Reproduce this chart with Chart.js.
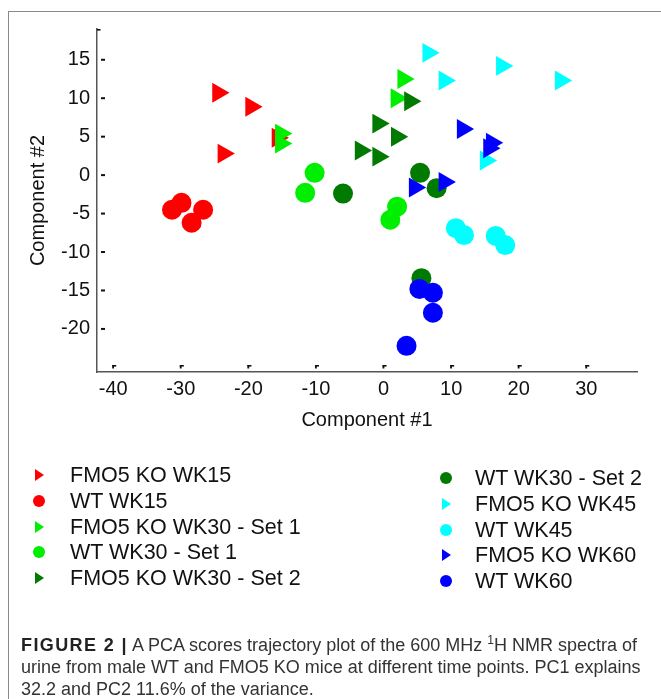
<!DOCTYPE html>
<html>
<head>
<meta charset="utf-8">
<script src="https://cdn.jsdelivr.net/npm/chart.js@4.4.1/dist/chart.umd.min.js"></script>
<style>
  html, body { margin:0; padding:0; background:#fff; width:661px; height:699px; overflow:hidden;
    font-family:"Liberation Sans", Arial, Helvetica, sans-serif; }
  #frame { position:absolute; left:8px; top:11px; width:720px; height:760px;
    border:1.5px solid #8a8a8a; box-sizing:border-box; }
  #wrap { position:absolute; left:0; top:0; width:661px; height:440px; }
  #legend { position:absolute; left:0; top:0; width:661px; height:699px; pointer-events:none; }
  .ltext { position:absolute; font-size:21.5px; color:#111; white-space:nowrap; line-height:24px; }
  .mk { position:absolute; }
  #caption { position:absolute; left:21px; top:634px; font-family:"Liberation Sans", Arial, sans-serif;
    font-size:18px; line-height:22px; color:#333; white-space:nowrap; }
  #caption b { color:#222; letter-spacing:1.4px; }
  #caption sup { font-size:12px; vertical-align:7px; line-height:0; }
</style>
</head>
<body>
<div id="frame"></div>
<div id="wrap"><canvas id="c" width="661" height="440"></canvas></div>
<div id="legend"></div>
<div id="caption"><b>FIGURE 2 |</b> A PCA scores trajectory plot of the 600 MHz <sup>1</sup>H NMR spectra of<br>urine from male WT and FMO5 KO mice at different time points. PC1 explains<br>32.2 and PC2 11.6% of the variance.</div>
<script>
// ---- data ----
const xTicks = [-40, -30, -20, -10, 0, 10, 20, 30];
const yTicks = [-20, -15, -10, -5, 0, 5, 10, 15];

const seriesNames = [
  'FMO5 KO WK15', 'WT WK15', 'FMO5 KO WK30 - Set 1', 'WT WK30 - Set 1', 'FMO5 KO WK30 - Set 2',
  'WT WK30 - Set 2', 'FMO5 KO WK45', 'WT WK45', 'FMO5 KO WK60', 'WT WK60'
];
const seriesColors = ['#ff0000', '#ff0000', '#00ee00', '#00ee00', '#007a00',
                      '#007a00', '#00ffff', '#00ffff', '#0000ff', '#0000ff'];
const seriesShapes = ['triangle', 'circle', 'triangle', 'circle', 'triangle',
                      'circle', 'triangle', 'circle', 'triangle', 'circle'];

const koWk15X = [-24.5, -19.6, -15.7, -23.7];
const koWk15Y = [10.7, 8.9, 4.85, 2.8];
const wtWk15X = [-31.3, -29.9, -26.7, -28.4];
const wtWk15Y = [-4.5, -3.6, -4.5, -6.2];
const koWk30s1X = [-15.2, -15.2, 2.9, 1.9];
const koWk30s1Y = [5.4, 4.1, 12.5, 10.0];
const wtWk30s1X = [-10.2, -11.6, 2.0, 1.0];
const wtWk30s1Y = [0.3, -2.3, -4.1, -5.8];
const koWk30s2X = [3.9, -0.8, 1.95, -3.4, -0.8];
const koWk30s2Y = [9.6, 6.7, 5.0, 3.2, 2.4];
const wtWk30s2X = [-6.0, 5.4, 7.85, 5.6];
const wtWk30s2Y = [-2.4, 0.3, -1.7, -13.4];
const koWk45X = [6.6, 17.5, 9.0, 26.2, 15.1];
const koWk45Y = [15.9, 14.2, 12.3, 12.3, 1.9];
const wtWk45X = [10.7, 11.9, 16.6, 18.0];
const wtWk45Y = [-6.9, -7.8, -7.9, -9.1];
const koWk60X = [11.7, 16.0, 15.6, 4.6, 9.0];
const koWk60Y = [6.0, 4.2, 3.5, -1.6, -0.9];
const wtWk60X = [5.3, 7.3, 7.3, 3.4];
const wtWk60Y = [-14.8, -15.3, -17.9, -22.2];

const seriesX = [koWk15X, wtWk15X, koWk30s1X, wtWk30s1X, koWk30s2X, wtWk30s2X, koWk45X, wtWk45X, koWk60X, wtWk60X];
const seriesY = [koWk15Y, wtWk15Y, koWk30s1Y, wtWk30s1Y, koWk30s2Y, wtWk30s2Y, koWk45Y, wtWk45Y, koWk60Y, wtWk60Y];

// ---- chart ----
const FONT = '"Liberation Sans", Arial, Helvetica, sans-serif';
const n = seriesNames.length;
const datasets = seriesNames.map((name, i) => ({
  label: name,
  data: seriesX[i].map((x, j) => ({ x: x, y: seriesY[i][j] })),
  backgroundColor: seriesColors[i],
  borderColor: seriesColors[i],
  borderWidth: 0,
  pointStyle: seriesShapes[i],
  pointRotation: seriesShapes[i] === 'triangle' ? 90 : 0,
  pointRadius: seriesShapes[i] === 'triangle' ? 11.5 : 10,
  pointBorderWidth: 0,
  order: n - i
}));

const tickMarks = {
  id: 'tickMarks',
  beforeDatasetsDraw(chart) {
    const { ctx, chartArea, scales } = chart;
    const xs = scales.x, ys = scales.y;
    ctx.save();
    ctx.fillStyle = '#111';
    ys.ticks.forEach(t => {
      const py = ys.getPixelForValue(t.value);
      ctx.fillRect(chartArea.left + 4, py - 1, 4, 2);
    });
    xs.ticks.forEach(t => {
      const px = xs.getPixelForValue(t.value);
      ctx.fillRect(px - 1, chartArea.bottom - 7, 1.8, 3.5);
      ctx.fillRect(px - 1, chartArea.bottom - 7, 4, 1.6);
    });
    ctx.fillRect(chartArea.left, chartArea.top, 3.5, 1.6);
    ctx.restore();
  }
};

new Chart(document.getElementById('c'), {
  type: 'scatter',
  data: { datasets: datasets },
  options: {
    responsive: false,
    animation: false,
    events: [],
    devicePixelRatio: 1,
    layout: { padding: { left: 0, right: 24, top: 29, bottom: 0 } },
    plugins: { legend: { display: false }, tooltip: { enabled: false } },
    scales: {
      x: {
        type: 'linear', min: -42.4, max: 37.5,
        afterBuildTicks: s => { s.ticks = xTicks.map(v => ({ value: v })); },
        afterFit: s => { s.height = 68; },
        grid: { display: false, drawTicks: false },
        border: { display: true, color: '#555', width: 1.5 },
        ticks: { padding: 5, color: '#111', font: { size: 20, family: FONT } },
        title: { display: true, text: 'Component #1', color: '#111',
                 font: { size: 20, family: FONT }, padding: { top: 0, bottom: 8 } }
      },
      y: {
        type: 'linear', min: -25.6, max: 19.0,
        afterBuildTicks: s => { s.ticks = yTicks.map(v => ({ value: v })); },
        afterFit: s => { s.width = 97; },
        grid: { display: false, drawTicks: false },
        border: { display: true, color: '#555', width: 1.5 },
        ticks: { padding: 7, color: '#111', font: { size: 20, family: FONT } },
        title: { display: true, text: 'Component #2', color: '#111',
                 font: { size: 20, family: FONT }, padding: { top: 26, bottom: 0 } }
      }
    }
  },
  plugins: [tickMarks]
});

// ---- legend (two columns, built from the series arrays) ----
const legend = document.getElementById('legend');
seriesNames.forEach((name, i) => {
  const col = i < 5 ? 0 : 1;
  const row = i % 5;
  const cy = (col === 0 ? 475 : 478) + row * 25.75;
  const mx = col === 0 ? 39 : 446;
  const tx = col === 0 ? 70 : 475;
  const mk = document.createElement('div');
  mk.className = 'mk';
  if (seriesShapes[i] === 'triangle') {
    mk.style.width = '0'; mk.style.height = '0';
    mk.style.borderLeft = '9px solid ' + seriesColors[i];
    mk.style.borderTop = '6px solid transparent';
    mk.style.borderBottom = '6px solid transparent';
    mk.style.left = (mx - 4) + 'px';
    mk.style.top = (cy - 6) + 'px';
  } else {
    mk.style.width = '12px'; mk.style.height = '12px';
    mk.style.borderRadius = '50%';
    mk.style.background = seriesColors[i];
    mk.style.left = (mx - 6) + 'px';
    mk.style.top = (cy - 6) + 'px';
  }
  legend.appendChild(mk);
  const t = document.createElement('div');
  t.className = 'ltext';
  t.textContent = name;
  t.style.left = tx + 'px';
  t.style.top = (cy - 12) + 'px';
  legend.appendChild(t);
});
</script>
</body>
</html>
